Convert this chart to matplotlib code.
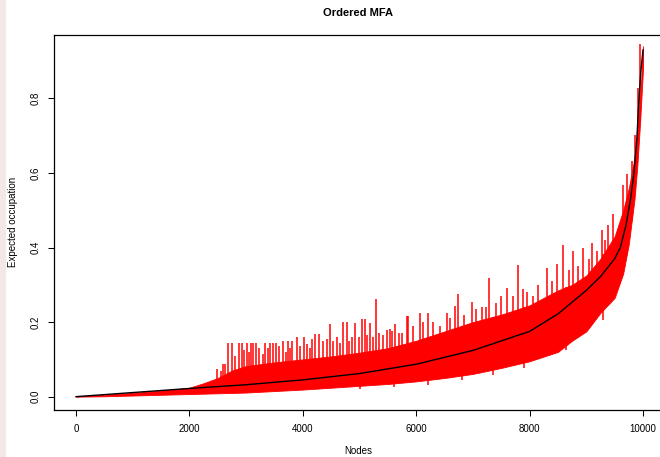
import numpy as np
import matplotlib.pyplot as plt
from matplotlib.patches import Rectangle

plt.rcParams['font.family'] = ['Liberation Sans', 'DejaVu Sans']

# ordered expected occupation (black curve)
mean_x = [0, 1000, 2000, 3000, 4000, 5000, 6000, 7000, 8000, 8500, 9000,
          9250, 9500, 9600, 9700, 9780, 9840, 9890, 9930, 9960, 10000]
mean_y = [0.0, 0.011, 0.022, 0.032, 0.045, 0.062, 0.087, 0.124, 0.175, 0.222, 0.285,
          0.322, 0.37, 0.40, 0.46, 0.53, 0.60, 0.69, 0.80, 0.87, 0.93]

# band of the noisy MFA values (red)
band_x = [0, 500, 1000, 1500, 2000, 2250, 2500, 2750, 3000, 3500, 4000, 4500, 5000,
          5500, 6000, 6500, 7000, 7500, 8000, 8500, 8750, 9000, 9250, 9500, 9650,
          9750, 9850, 9900, 9950, 10000]
band_lo = [0.0, 0.001, 0.003, 0.005, 0.007, 0.008, 0.009, 0.010, 0.011, 0.015, 0.019,
           0.024, 0.029, 0.034, 0.041, 0.050, 0.061, 0.077, 0.095, 0.12, 0.15, 0.175,
           0.225, 0.265, 0.33, 0.41, 0.53, 0.62, 0.74, 0.88]
band_hi = [0.001, 0.005, 0.010, 0.016, 0.024, 0.036, 0.050, 0.070, 0.082, 0.092, 0.100,
           0.108, 0.118, 0.13, 0.15, 0.175, 0.20, 0.22, 0.245, 0.285, 0.30, 0.325,
           0.37, 0.43, 0.50, 0.56, 0.64, 0.70, 0.80, 0.94]

# the taller single spikes
spike_x = [2490, 2590, 2680, 2750, 2875, 2930, 3010, 3080, 3116, 3175, 3333, 3420,
           3475, 3527, 3650, 3740, 3810, 3892, 4021, 4156, 4215, 4285, 4421, 4480,
           4597, 4710, 4774, 4862, 4920, 5038, 5097, 5185, 5291, 5480, 5538, 5626,
           5744, 5832, 5856, 6067, 6208, 6538, 6684, 6743, 6979, 7155, 7290, 7596,
           7800, 7884, 8065, 8301, 8478, 8594, 8771, 8947, 9095, 9272, 9390, 9476,
           9653, 9712, 9800, 9859, 9918, 9947]
spike_top = [0.075, 0.088, 0.145, 0.145, 0.145, 0.145, 0.145, 0.145, 0.145, 0.145,
             0.145, 0.145, 0.145, 0.145, 0.148, 0.148, 0.148, 0.159, 0.16, 0.155,
             0.168, 0.168, 0.155, 0.194, 0.16, 0.2, 0.2, 0.16, 0.197, 0.208, 0.208,
             0.197, 0.261, 0.18, 0.182, 0.196, 0.17, 0.216, 0.217, 0.225, 0.225,
             0.225, 0.243, 0.275, 0.254, 0.24, 0.317, 0.292, 0.353, 0.29, 0.27,
             0.346, 0.355, 0.406, 0.39, 0.40, 0.413, 0.448, 0.46, 0.49, 0.569,
             0.596, 0.631, 0.702, 0.827, 0.945]

# lower spikes filling the band top
mid_x = [2560, 2630, 2810, 2960, 3050, 3230, 3290, 3380, 3580, 3700, 3780, 3950,
         4080, 4120, 4350, 4540, 4650, 4820, 4990, 5140, 5240, 5350, 5420, 5580,
         5700, 5950, 6120, 6300, 6420, 6600, 6850, 7050, 7230, 7400, 7500, 7700,
         7950, 8150, 8400, 8700, 8850, 9050, 9180, 9330]
mid_top = [0.07, 0.088, 0.11, 0.125, 0.12, 0.13, 0.115, 0.13, 0.135, 0.12, 0.13,
           0.135, 0.14, 0.13, 0.15, 0.15, 0.145, 0.15, 0.16, 0.165, 0.16, 0.17,
           0.165, 0.175, 0.17, 0.19, 0.2, 0.2, 0.19, 0.21, 0.22, 0.235, 0.24, 0.25,
           0.27, 0.27, 0.28, 0.3, 0.31, 0.34, 0.35, 0.37, 0.39, 0.42]

# dips below the band
dip_x = [5000, 5600, 6200, 6800, 7350, 7900, 8650, 9300]
dip_bot = [0.02, 0.025, 0.03, 0.045, 0.058, 0.078, 0.125, 0.205]

fig = plt.figure(figsize=(6.6, 4.57), dpi=100)
fig.patches.append(Rectangle((0, 0), 5 / 660, 1, transform=fig.transFigure,
                             color='#f4e7e7', zorder=0))
ax = fig.add_axes([53.5 / 660, 1 - 410 / 457, 612.2 / 660, 375 / 457])

ax.fill_between(band_x, band_lo, band_hi, color='red', lw=0.6, edgecolor='red')
ax.vlines(spike_x, np.interp(spike_x, band_x, band_lo), spike_top, color='red', lw=1.1)
ax.vlines(mid_x, np.interp(mid_x, band_x, band_lo), mid_top, color='red', lw=1.1)
ax.vlines(dip_x, dip_bot, np.interp(dip_x, band_x, band_hi), color='red', lw=1.1)
ax.plot(mean_x, mean_y, color='black', lw=1)

ax.set_xlim(-397, 10400)
ax.set_ylim(-0.0358, 0.970)
ax.set_xticks([0, 2000, 4000, 6000, 8000, 10000])
ax.set_yticks([0.0, 0.2, 0.4, 0.6, 0.8])
ax.set_xticklabels(['0', '2000', '4000', '6000', '8000', '10000'])
ax.set_yticklabels(['0.0', '0.2', '0.4', '0.6', '0.8'], rotation=90, va='center')
ax.tick_params(direction='out', length=4, width=0.75, labelsize=7, pad=6)
ax.tick_params(axis='y', pad=5)
for s in ax.spines.values():
    s.set_linewidth(0.9)

fig.text(358 / 660, 1 - 13 / 457, 'Ordered MFA', ha='center', va='center',
         fontsize=8, fontweight='bold')
fig.text(358 / 660, 1 - 451 / 457, 'Nodes', ha='center', va='center', fontsize=7)
fig.text(13 / 660, 1 - 222 / 457, 'Expected occupation', ha='center', va='center',
         fontsize=7, rotation=90)

fig.savefig('out.png', dpi=100)
